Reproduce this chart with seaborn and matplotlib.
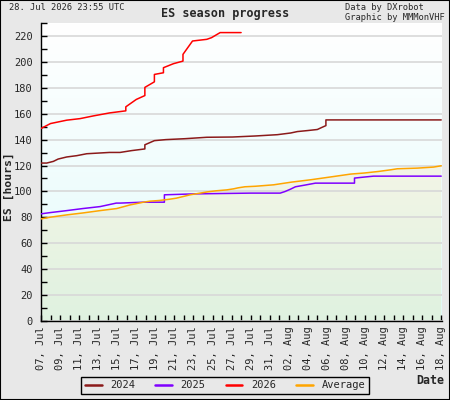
import numpy as np
import pandas as pd
import matplotlib
matplotlib.use('Agg')
import matplotlib.pyplot as plt
import matplotlib.dates as mdates
from matplotlib.colors import LinearSegmentedColormap
from matplotlib.patches import Rectangle, Polygon
from matplotlib.lines import Line2D
import seaborn as sns

sns.set_style('white')
plt.rcParams['font.family'] = ['DejaVu Sans Mono']

# days after 07 Jul, cumulative ES hours
days_2024 = [0, 0.6, 1.3, 1.8, 2.7, 3.75, 4.8, 7.2, 8.3, 9.5, 10.9, 10.9, 11.9, 13.1, 15.1, 17.4,
             20.1, 22.5, 24.8, 26.2, 26.9, 28.0, 29.0, 29.5, 29.9, 29.9, 42]
es_2024 = [121.9, 121.9, 123.2, 125.0, 126.6, 127.6, 129.1, 130.1, 130.1, 131.5, 132.8, 136.0, 139.2,
           140.0, 140.7, 141.8, 142.0, 142.8, 143.8, 145.1, 146.2, 147.0, 147.8, 149.5, 150.8, 155.2, 155.2]

days_2025 = [0, 1.0, 2.7, 4.4, 6.2, 7.9, 8.3, 10.7, 12.95, 12.95, 16.0, 22.0, 25.1, 25.6, 26.2, 26.7,
             27.7, 28.8, 30.9, 32.9, 32.9, 33.8, 34.9, 42]
es_2025 = [82.7, 83.7, 85.2, 86.8, 88.3, 91.0, 91.0, 91.7, 91.7, 97.4, 98.1, 98.7, 98.7, 99.9, 101.8,
           103.6, 104.9, 106.4, 106.4, 106.4, 110.3, 111.0, 111.8, 111.8]

days_2026 = [0, 1.0, 2.7, 4.1, 5.5, 7.2, 8.9, 8.9, 10.0, 10.9, 10.9, 11.9, 11.9, 12.85, 12.85, 13.9,
             14.9, 14.9, 15.9, 17.4, 17.9, 18.8, 21.0]
es_2026 = [148.6, 152.4, 155.0, 156.2, 158.3, 160.6, 162.2, 165.3, 171.0, 174.0, 180.3, 184.6, 190.3,
           191.6, 195.5, 198.6, 200.6, 205.8, 216.1, 217.4, 218.7, 222.6, 222.6]

days_avg = [0, 0.95, 2.7, 4.4, 6.2, 7.95, 9.35, 10.75, 11.45, 12.4, 13.5, 14.2, 15.1, 15.65, 16.7, 17.5,
            18.4, 19.5, 20.2, 20.7, 21.4, 22.5, 24.4, 26.3, 28.3, 30.7, 32.5, 33.9, 35.4, 36.7, 37.4,
            39.5, 41.2, 42]
es_avg = [78.8, 80.1, 81.9, 83.4, 85.2, 86.8, 89.6, 91.7, 92.5, 93.0, 94.0, 94.8, 96.4, 97.4, 98.7,
          99.7, 100.5, 101.2, 102.0, 102.8, 103.6, 104.0, 105.1, 107.2, 109.0, 111.5, 113.4, 114.2,
          115.4, 116.7, 117.5, 118.0, 118.8, 119.8]

series_names = ['2024', '2025', '2026', 'Average']
series_colors = ['#8b1a1a', '#7f00ff', '#ff0000', '#ffa500']
start = pd.Timestamp('2026-07-07')
end = pd.Timestamp('2026-08-18')

frames = []
for name, d, v in zip(series_names, [days_2024, days_2025, days_2026, days_avg],
                      [es_2024, es_2025, es_2026, es_avg]):
    frames.append(pd.DataFrame({'date': start + pd.to_timedelta(d, unit='D'),
                                'es': v, 'series': name}))
df = pd.concat(frames, ignore_index=True)

fig = plt.figure(figsize=(4.5, 4.0), dpi=100, facecolor='#e8e8e8')
ax = fig.add_axes([41 / 450, 1 - 321 / 400, 401 / 450, 298 / 400])

x0, x1 = mdates.date2num(start), mdates.date2num(end)
ymax = 230

# background gradient (cyan) and green gradient under the average
bg = LinearSegmentedColormap.from_list('bg', ['#e2fbfb', '#ffffff'])
grad = np.linspace(0, 1, 256).reshape(-1, 1)
ax.imshow(grad, cmap=bg, aspect='auto', origin='lower',
          extent=(x0, x1 + 1, 0, ymax), zorder=0)

avg_df = df[df['series'] == 'Average']
avg_x = mdates.date2num(avg_df['date'])
verts = [(avg_x[0], 0)] + list(zip(avg_x, avg_df['es'])) + [(avg_x[-1], 0)]
under = Polygon(verts, closed=True, facecolor='none', edgecolor='none')
ax.add_patch(under)
gn = LinearSegmentedColormap.from_list('gn', [(0, '#dff2e0'), (0.52, '#f3f5e6'), (1, '#f8f8ee')])
im = ax.imshow(grad, cmap=gn, aspect='auto', origin='lower',
               extent=(x0, x1 + 1, 0, ymax), zorder=0.5)
im.set_clip_path(under)

sns.lineplot(data=df, x='date', y='es', hue='series', hue_order=series_names,
             palette=series_colors, estimator=None, sort=False, lw=1.1, ax=ax,
             legend=False, zorder=3)

ax.set_xlim(start, end + pd.Timedelta(hours=2))
ax.set_ylim(0, ymax)
ax.yaxis.set_major_locator(plt.MultipleLocator(20))
ax.yaxis.set_minor_locator(plt.MultipleLocator(10))
ax.xaxis.set_major_locator(mdates.DayLocator(interval=2))
ax.xaxis.set_minor_locator(mdates.DayLocator())
ax.xaxis.set_major_formatter(mdates.DateFormatter('%d, %b'))
ax.grid(axis='y', which='major', color='#d8d8d8', lw=1.2, zorder=1)
ax.set_axisbelow(True)
ax.tick_params(axis='both', which='both', direction='in', length=4, width=1, color='black',
               labelsize=7.5, left=True, bottom=True)
ax.tick_params(axis='x', which='major', rotation=90, pad=4)
ax.tick_params(axis='y', which='major', pad=6)
for side in ['top', 'right']:
    ax.spines[side].set_visible(False)
for side in ['left', 'bottom']:
    ax.spines[side].set_color('black')
    ax.spines[side].set_linewidth(1)
ax.set_xlabel('')
ax.set_ylabel('')

fig.text(9 / 450, 1 - 187 / 400, 'ES [hours]', rotation=90, ha='center', va='center',
         fontsize=8.2, fontweight='bold')
fig.text(444 / 450, 1 - 380 / 400, 'Date', ha='right', va='center', fontsize=8.4, fontweight='bold')
fig.text(0.5, 1 - 13 / 400, 'ES season progress', ha='center', va='center',
         fontsize=8.5, fontweight='bold')
fig.text(9 / 450, 1 - 7 / 400, '28. Jul 2026 23:55 UTC', ha='left', va='center', fontsize=6.3)
fig.text(345 / 450, 1 - 7 / 400, 'Data by DXrobot', ha='left', va='center', fontsize=6.3)
fig.text(345 / 450, 1 - 17 / 400, 'Graphic by MMMonVHF', ha='left', va='center', fontsize=6.3)

handles = [Line2D([], [], color=c, lw=1.8) for c in series_colors]
leg = fig.legend(handles, series_names, loc='center', bbox_to_anchor=(225 / 450, 1 - 385.5 / 400),
                 ncol=4, fontsize=7.5, frameon=True, fancybox=False, edgecolor='black',
                 facecolor='#e8e8e8', framealpha=1, handlelength=1.6, handletextpad=0.85,
                 columnspacing=1.9, borderpad=0.35)
leg.get_frame().set_linewidth(1)

fig.patches.append(Rectangle((0, 0), 1, 1, transform=fig.transFigure, fill=False,
                             edgecolor='black', lw=1.5))

fig.savefig('out.png', dpi=100, facecolor=fig.get_facecolor())
